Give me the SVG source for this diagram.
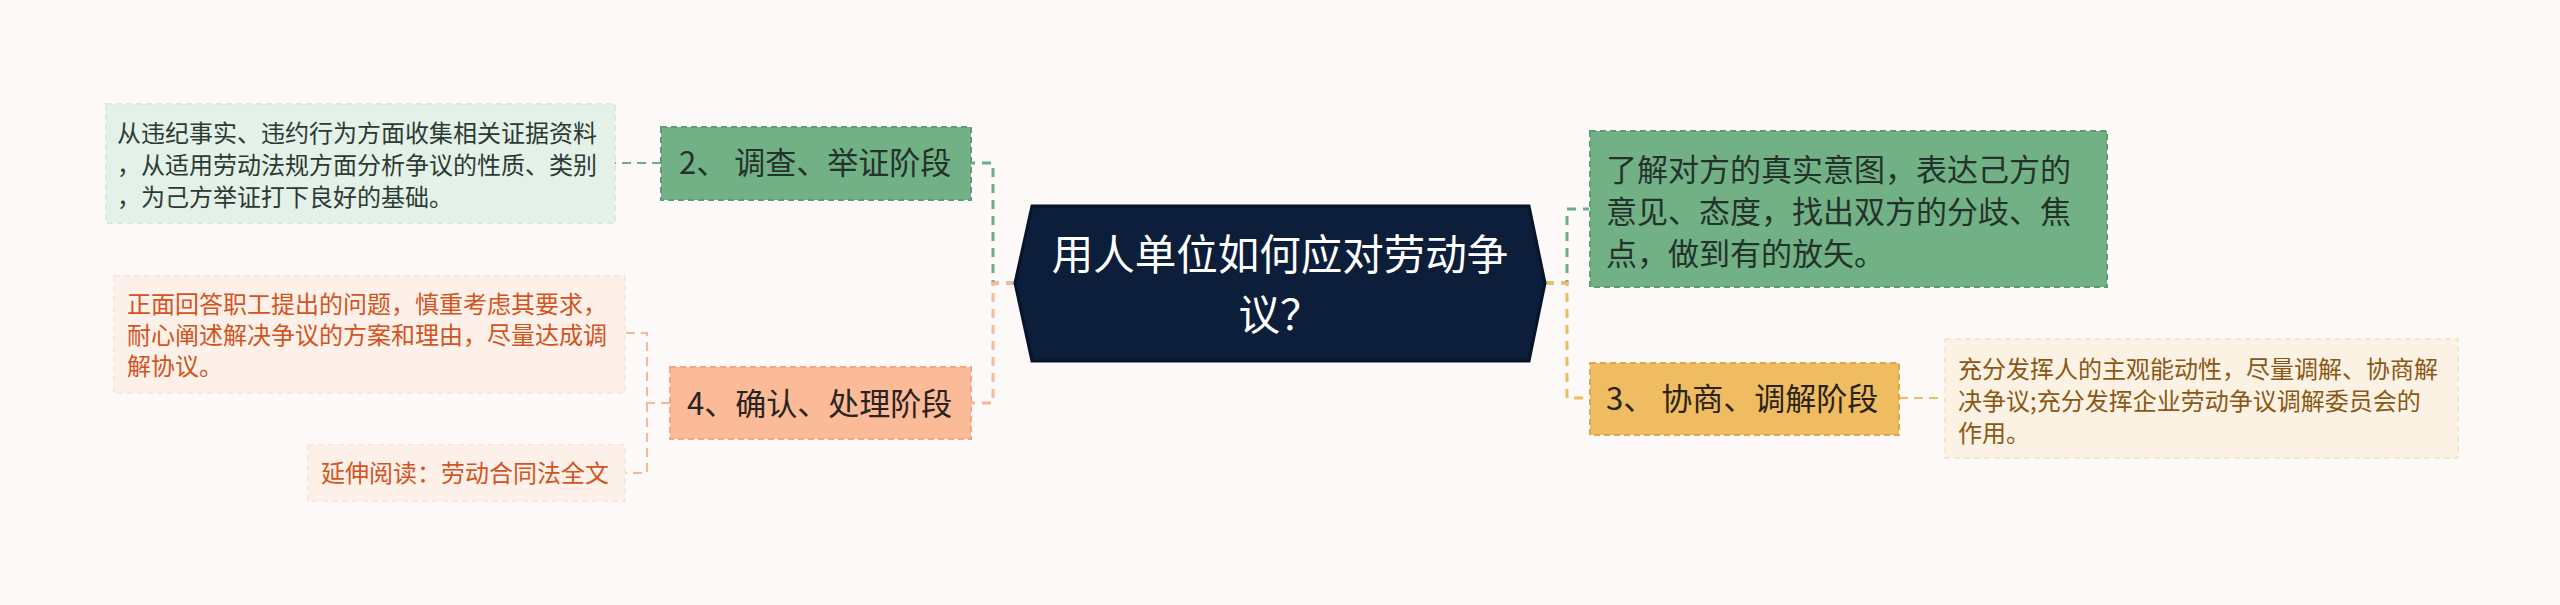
<svg xmlns="http://www.w3.org/2000/svg" width="2560" height="605" viewBox="0 0 2560 605">
<style>
text{font-family:"Noto Sans CJK SC","Noto Sans",sans-serif;}
.c{fill:none;stroke-width:3;stroke-dasharray:9 7;}
.t{fill:none;stroke-width:2;stroke-dasharray:9 6;}
.g{stroke:#6dae83;}
.o{stroke:#efbc62;}
.s{stroke:#f7b896;}
.bd{stroke-width:2;stroke-dasharray:6 4;}
</style>
<rect width="2560" height="605" fill="#fdf9f8"/>
<g id="connectors">
<path class="c g" d="M1545 283 H1567 V209 H1589"/>
<path class="c o" d="M1545 283 H1567 V398 H1589"/>
<path class="c g" d="M1015 283 H993 V163 H971"/>
<path class="c s" d="M1015 283 H993 V403 H971"/>
<path class="t g" d="M661 163 H615"/>
<path class="t o" d="M1899 398 H1944"/>
<path class="t s" d="M670 403 H647 V333 H625"/>
<path class="t s" d="M647 403 V473 H625"/>
</g>
<g id="root">
<polygon points="1015,283 1032,206 1529,206 1545,283 1529,361 1032,361" fill="#0c1e3a" stroke="#07142a" stroke-width="3"/>
<text font-size="41.5" fill="#ffffff" text-anchor="middle"><tspan x="1280" y="270">用人单位如何应对劳动争</tspan><tspan x="1280" y="330">议？</tspan></text>
</g>
<g id="n-understand">
<rect x="1590" y="131" width="517" height="156" fill="#72b086" stroke="#5e9d72" class="bd"/>
<text font-size="31" fill="#24332a"><tspan x="1606" y="181">了解对方的真实意图，表达己方的</tspan><tspan x="1606" y="223">意见、态度，找出双方的分歧、焦</tspan><tspan x="1606" y="265">点，做到有的放矢。</tspan></text>
</g>
<g id="n-stage3">
<rect x="1590" y="363" width="309" height="72" fill="#f0bc62" stroke="#dba74f" class="bd"/>
<text x="1606" y="410" font-size="31" fill="#2a2418">3、 协商、调解阶段</text>
</g>
<g id="n-stage3-detail">
<rect x="1945" y="339" width="513" height="119" fill="#fcf2e4" stroke="#f6e6cf" class="bd"/>
<text font-size="24" fill="#8a5814"><tspan x="1958" y="378">充分发挥人的主观能动性，尽量调解、协商解</tspan><tspan x="1958" y="410">决争议;充分发挥企业劳动争议调解委员会的</tspan><tspan x="1958" y="442">作用。</tspan></text>
</g>
<g id="n-stage2">
<rect x="661" y="127" width="310" height="73" fill="#72b086" stroke="#5e9d72" class="bd"/>
<text x="679" y="174" font-size="31" fill="#24332a">2、 调查、举证阶段</text>
</g>
<g id="n-stage2-detail">
<rect x="106" y="104" width="509" height="119" fill="#e3f1e8" stroke="#d8ebdf" class="bd"/>
<text font-size="24" fill="#2d3a32"><tspan x="117" y="142">从违纪事实、违约行为方面收集相关证据资料</tspan><tspan x="117" y="174">，从适用劳动法规方面分析争议的性质、类别</tspan><tspan x="117" y="206">，为己方举证打下良好的基础。</tspan></text>
</g>
<g id="n-stage4">
<rect x="670" y="367" width="301" height="72" fill="#fbba98" stroke="#f2a883" class="bd"/>
<text x="687" y="415" font-size="31" fill="#2a2320">4、确认、处理阶段</text>
</g>
<g id="n-stage4-detail">
<rect x="114" y="276" width="511" height="117" fill="#fdf0e8" stroke="#f9e8de" class="bd"/>
<text font-size="24" fill="#d2541e"><tspan x="127" y="313">正面回答职工提出的问题，慎重考虑其要求，</tspan><tspan x="127" y="344">耐心阐述解决争议的方案和理由，尽量达成调</tspan><tspan x="127" y="375">解协议。</tspan></text>
</g>
<g id="n-reading">
<rect x="308" y="445" width="317" height="56" fill="#fdf0e8" stroke="#f9e8de" class="bd"/>
<text x="321" y="482" font-size="24" fill="#d2541e">延伸阅读：劳动合同法全文</text>
</g>
</svg>
